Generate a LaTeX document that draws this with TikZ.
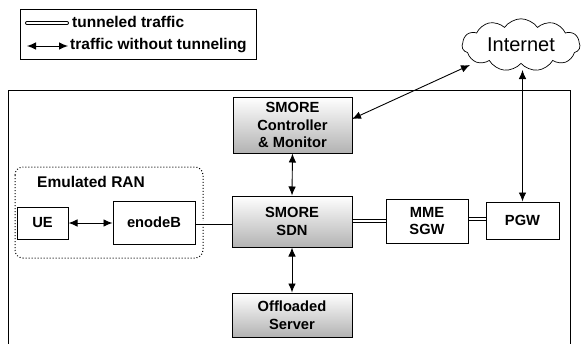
\documentclass[tikz,border=0pt]{standalone}
\usepackage{fontspec}
\setmainfont{Liberation Sans}
\usetikzlibrary{shapes.symbols,arrows.meta}
\begin{document}
\begin{tikzpicture}[x=1pt,y=-1pt,
 box/.style={draw,line width=1pt,font=\bfseries\fontsize{14.7}{17.5}\selectfont,align=center,inner sep=0pt},
 gbox/.style={box,top color=white,bottom color=gray!60},
 arr/.style={line width=0.9pt,{Latex[length=9pt,width=7.5pt]}-{Latex[length=9pt,width=7.5pt]}},
 tun/.style={double,double distance=2.4pt,line width=0.8pt},
 lbl/.style={font=\bfseries\fontsize{15.5}{18}\selectfont,inner sep=0pt,anchor=west},
]
\useasboundingbox (0,0) rectangle (581,343);
% outer frame
\draw[line width=0.8pt] (8,345) -- (8,90) -- (570,90) -- (570,345);
% legend
\node[draw,line width=0.8pt,minimum width=236,minimum height=50,inner sep=0pt] (legend) at (138,34) {};
\coordinate (l1a) at (27,23); \coordinate (l1b) at (67,23);
\coordinate (l2a) at (27,46); \coordinate (l2b) at (68,46);
\draw[tun,line cap=round] (l1a) -- (l1b);
\draw[arr] (l2a) -- (l2b);
\node[lbl] (t1) at (72,22) {tunneled traffic};
\node[lbl] (t2) at (70,46) {traffic without tunneling};
% cloud
\node[cloud,draw,line width=0.7pt,cloud puffs=11,cloud puff arc=110,aspect=2.4,minimum width=118,minimum height=50,inner sep=0pt,font=\fontsize{20}{24}\selectfont] (internet) at (521,45) {Internet};
% RAN
\draw[dotted,line width=1pt,rounded corners=8pt] (15,167) rectangle (203,258);
\node[lbl] (ran) at (37,182) {Emulated RAN};
% boxes
\node[gbox,minimum width=119,minimum height=56] (ctrl) at (292.5,125) {SMORE\\Controller\\\& Monitor};
\node[gbox,minimum width=120,minimum height=51] (sdn) at (292,221.5) {SMORE\\SDN};
\node[gbox,minimum width=120,minimum height=44] (off) at (292,315) {Offloaded\\Server};
\node[box,minimum width=51,minimum height=32] (ue) at (42.5,223) {UE};
\node[box,minimum width=82,minimum height=43] (enb) at (154,222.5) {enodeB};
\node[box,minimum width=82,minimum height=44] (mme) at (427,221) {MME\\SGW};
\node[box,minimum width=73,minimum height=37] (pgw) at (522.5,220.5) {PGW};
% connectors
\coordinate (inA) at (470,65);
\coordinate (inB) at (522.5,70);
\coordinate (ctrlR) at (352,119);
\draw[arr] (inA) -- (ctrlR);
\draw[arr] (inB) -- (pgw.north);
\draw[arr] (ctrl.south) -- (sdn.north);
\draw[arr] (sdn.south) -- (off.north);
\draw[arr] (ue.east) -- (enb.west |- ue.east);
\draw[tun] (enb.east) -- (sdn.west |- enb.east);
\draw[tun] (sdn.east |- mme.west) -- (mme.west);
\draw[tun] (mme.east |- 0,219) -- (pgw.west |- 0,219);
\end{tikzpicture}
\end{document}
